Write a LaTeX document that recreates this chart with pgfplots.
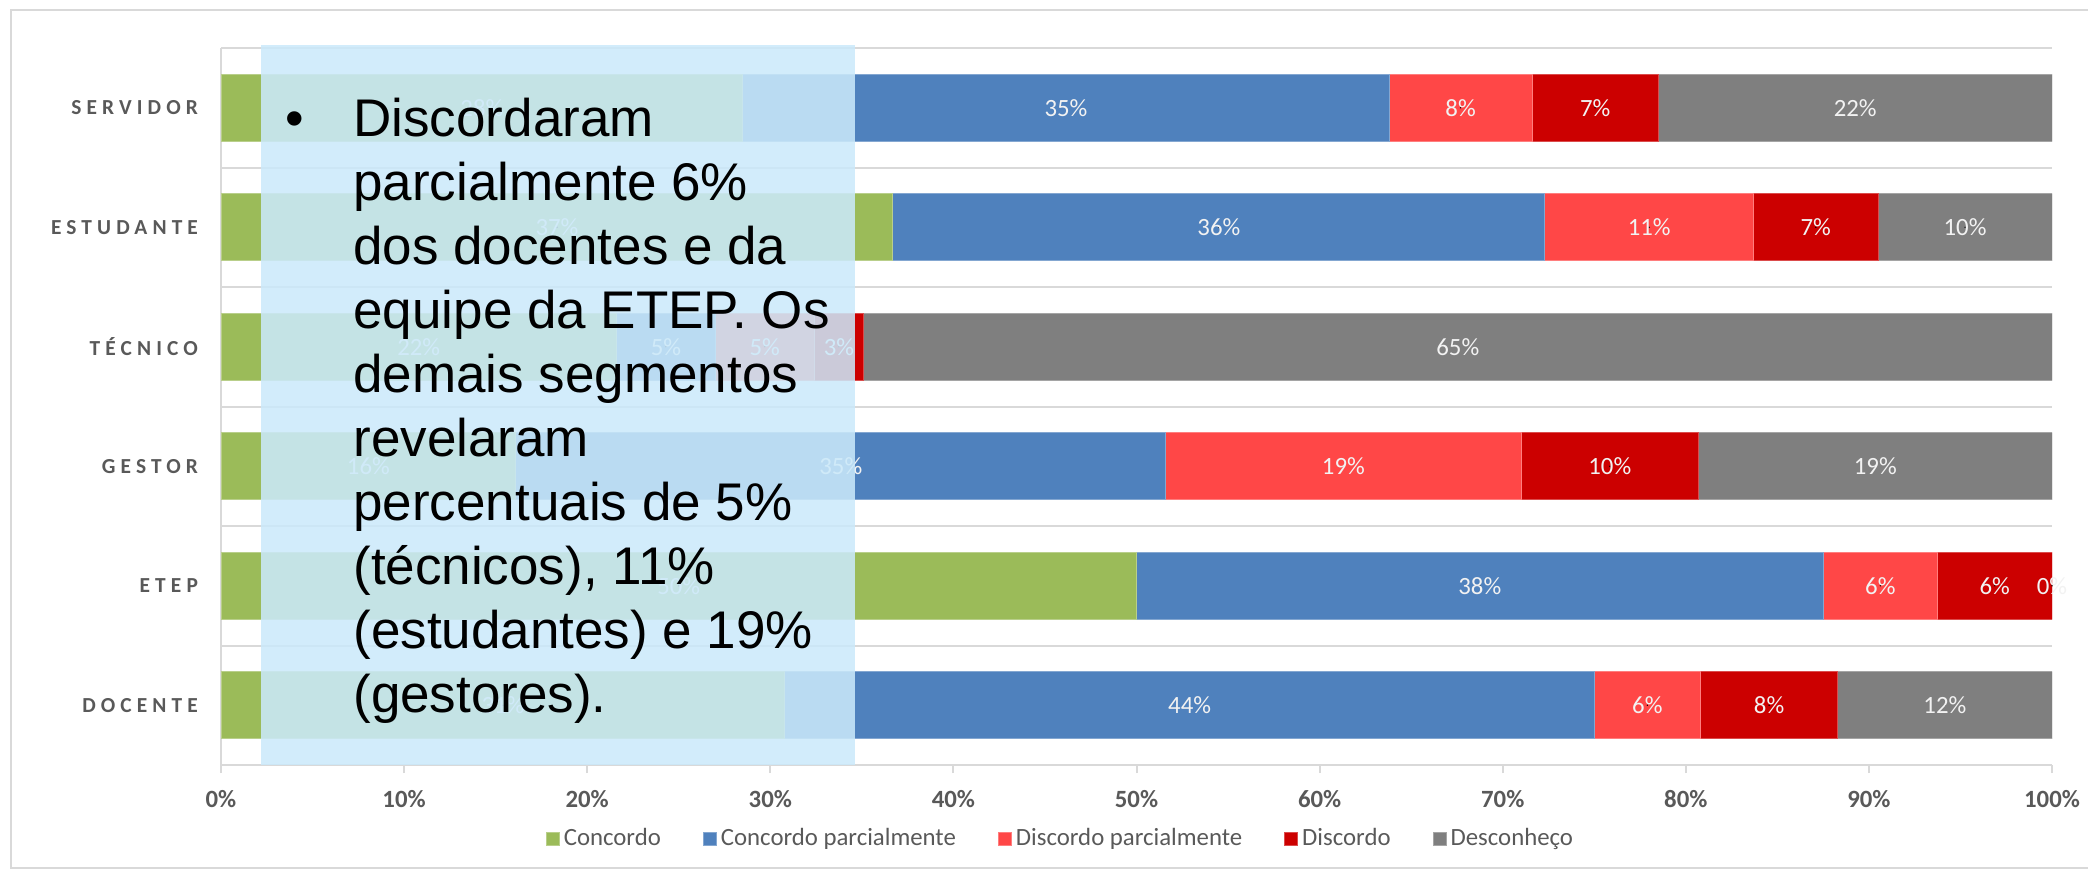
\documentclass[border=0pt]{standalone}
\usepackage{pgfplots}
\pgfplotsset{compat=1.18}
\usepackage{pgfplotstable}
\usepackage{fontspec}
\setmainfont{Carlito}
\newfontfamily\arialf{Liberation Sans}
\newfontfamily\catfont[LetterSpace=24]{Carlito}
\definecolor{cgreen}{HTML}{9BBB59}
\definecolor{cblue}{HTML}{4F81BD}
\definecolor{clred}{HTML}{FF4747}
\definecolor{cdred}{HTML}{CC0000}
\definecolor{cgray}{HTML}{7F7F7F}
\definecolor{gridgray}{HTML}{D9D9D9}
\definecolor{tickgray}{HTML}{595959}
\definecolor{ovblue}{RGB}{203,233,250}
\pgfplotstableread{
y a b c d e la lb lc ld le
0 30.8 44.2 5.8 7.5 11.7 31 44 6 8 12
1 50 37.5 6.25 6.25 0 50 38 6 6 0
2 16.1 35.5 19.4 9.7 19.3 16 35 19 10 19
3 21.6 5.4 5.4 2.7 64.9 22 5 5 3 65
4 36.7 35.6 11.4 6.8 9.5 37 36 11 7 10
5 28.5 35.3 7.8 6.9 21.5 28 35 8 7 22
}\datatable
\begin{document}
\begin{tikzpicture}
\useasboundingbox (0,0) rectangle (1044pt,437.5pt);
\draw[gridgray, line width=1pt] (5.5pt,3.5pt) rectangle (1060pt,432.5pt);
\begin{axis}[
  at={(110.5pt,55pt)}, anchor=south west,
  scale only axis, width=915.5pt, height=358.5pt,
  xbar stacked, bar width=33.5pt,
  xmin=0, xmax=100, ymin=-0.5, ymax=5.5,
  ytick={0,...,5},
  yticklabels={DOCENTE,ETEP,GESTOR,TÉCNICO,ESTUDANTE,SERVIDOR},
  minor ytick={-0.5,0.5,...,5.5},
  yminorgrids, ymajorgrids=false,
  minor grid style={draw=gridgray, line width=1pt},
  minor tick length=0pt,
  axis x line*=bottom, axis y line*=left,
  axis line style={draw=gridgray, line width=1pt, -},
  xtick={0,10,...,100},
  xticklabels={0\%,10\%,20\%,30\%,40\%,50\%,60\%,70\%,80\%,90\%,100\%},
  tick align=outside, major tick length=4pt,
  x tick style={draw=gridgray, line width=1pt},
  y tick style={draw=none},
  /pgf/number format/assume math mode=true,
  xticklabel style={font=\bfseries\fontsize{12.4}{14}\selectfont, text=tickgray, yshift=-5pt},
  yticklabel style={font=\catfont\bfseries\fontsize{10.7}{12}\selectfont, text=tickgray, xshift=-4pt},
  legend columns=5,
  legend style={at={(0.459,-0.103)}, anchor=center, draw=none, fill=none,
    font=\fontsize{12.4}{14}\selectfont, text=tickgray,
    /tikz/every even column/.append style={column sep=19pt}},
  legend image code/.code={\fill[#1] (0pt,-3.25pt) rectangle (6.5pt,3.25pt);},
]
\addplot[fill=cgreen, draw=cgreen!70!white, line width=0.5pt] table[x=a, y=y] {\datatable};
\addplot[fill=cblue, draw=cblue!70!white, line width=0.5pt] table[x=b, y=y] {\datatable};
\addplot[fill=clred, draw=clred!70!white, line width=0.5pt] table[x=c, y=y] {\datatable};
\addplot[fill=cdred, draw=cdred!70!white, line width=0.5pt] table[x=d, y=y] {\datatable};
\addplot[fill=cgray, draw=cgray!70!white, line width=0.5pt] table[x=e, y=y] {\datatable};
\legend{Concordo, Concordo parcialmente, Discordo parcialmente, Discordo, Desconheço}
\end{axis}
\begin{axis}[
  at={(110.5pt,55pt)}, anchor=south west,
  scale only axis, width=915.5pt, height=358.5pt,
  xmin=0, xmax=100, ymin=-0.5, ymax=5.5,
  hide axis, clip mode=global,
  nodes near coords={\pgfplotspointmeta\%},
  point meta=explicit symbolic,
  every node near coord/.style={anchor=center, inner sep=0pt, font=\fontsize{12.4}{14}\selectfont, text=white!95!black},
]
\addplot[only marks, mark=*, mark size=0.1pt, mark options={draw=none, fill=none}] table[x expr=\thisrow{a}/2, y=y, meta=la] {\datatable};
\addplot[only marks, mark=*, mark size=0.1pt, mark options={draw=none, fill=none}] table[x expr=\thisrow{a}+\thisrow{b}/2, y=y, meta=lb] {\datatable};
\addplot[only marks, mark=*, mark size=0.1pt, mark options={draw=none, fill=none}] table[x expr=\thisrow{a}+\thisrow{b}+\thisrow{c}/2, y=y, meta=lc] {\datatable};
\addplot[only marks, mark=*, mark size=0.1pt, mark options={draw=none, fill=none}] table[x expr=\thisrow{a}+\thisrow{b}+\thisrow{c}+\thisrow{d}/2, y=y, meta=ld] {\datatable};
\addplot[only marks, mark=*, mark size=0.1pt, mark options={draw=none, fill=none}] table[x expr=\thisrow{a}+\thisrow{b}+\thisrow{c}+\thisrow{d}+\thisrow{e}/2, y=y, meta=le] {\datatable};
\end{axis}
\fill[ovblue, fill opacity=0.87] (130.5pt,55pt) rectangle (427.5pt,415pt);
\begin{scope}[every node/.style={anchor=base west, inner sep=0pt, font=\arialf\fontsize{26.5}{32}\selectfont}]
\node[anchor=base] at (147.5pt,369.5pt) {•};
\node at (176.5pt,369.5pt) {Discordaram};
\node at (176.5pt,337.5pt) {parcialmente 6\%};
\node at (176.5pt,305.5pt) {dos docentes e da};
\node at (176.5pt,273.5pt) {equipe da ETEP. Os};
\node at (176.5pt,241.5pt) {demais segmentos};
\node at (176.5pt,209.5pt) {revelaram};
\node at (176.5pt,177.5pt) {percentuais de 5\%};
\node at (176.5pt,145.5pt) {(técnicos), 11\%};
\node at (176.5pt,113.5pt) {(estudantes) e 19\%};
\node at (176.5pt,81.5pt) {(gestores).};
\end{scope}
\end{tikzpicture}
\end{document}
